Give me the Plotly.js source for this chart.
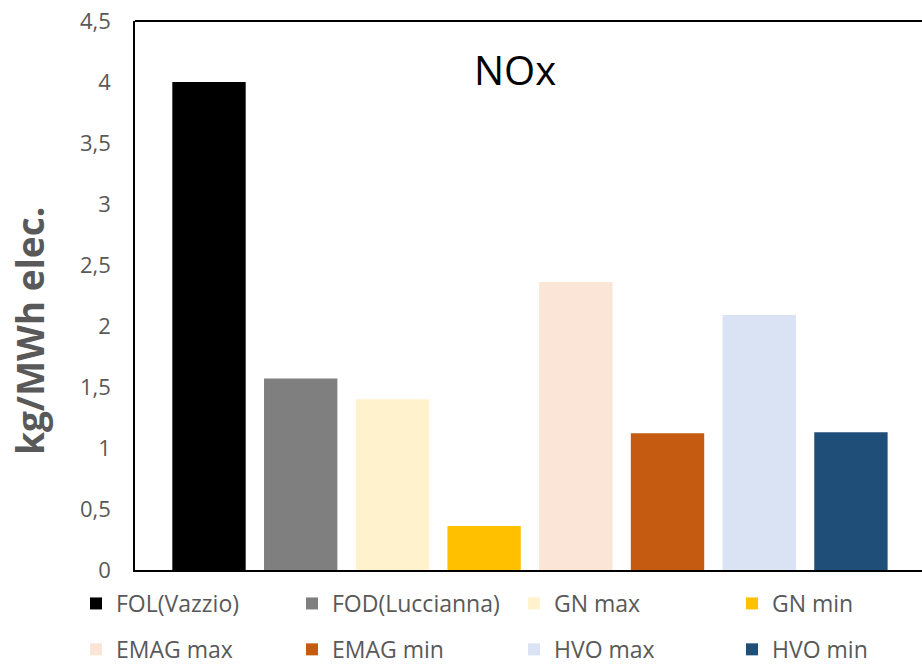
<!DOCTYPE html>
<html>
<head>
<meta charset="utf-8">
<script src="https://cdn.plot.ly/plotly-3.0.1.min.js"></script>
<style>html,body{margin:0;padding:0;background:#fff;}#chart{width:922px;height:666px;}</style>
</head>
<body>
<div id="chart"></div>
<script>
const categories = ["FOL(Vazzio)", "FOD(Luccianna)", "GN max", "GN min", "EMAG max", "EMAG min", "HVO max", "HVO min"];
const values = [4.0, 1.57, 1.40, 0.36, 2.36, 1.12, 2.09, 1.13];
const colors = ["#000000", "#7f7f7f", "#fff2cc", "#ffc000", "#fbe5d6", "#c55a11", "#dae3f3", "#1f4e79"];
const yTicks = [0, 0.5, 1, 1.5, 2, 2.5, 3, 3.5, 4, 4.5];
const chartTitle = "NOx";
const yTitle = "kg/MWh elec.";

// legend column for each series (4 columns, 2 rows)
const legendIds = ["legend", "legend2", "legend3", "legend4"];

const traces = categories.map((c, i) => ({
  type: "bar",
  x: [c],
  y: [values[i]],
  name: c,
  marker: {color: colors[i], line: {width: 0}},
  legend: legendIds[i % 4],
  legendgroup: "g" + i,
  hoverinfo: "x+y"
}));

const colLeft = [76, 292, 514, 732];
function makeLegend(k) {
  return {
    orientation: "v",
    xref: "paper", yref: "container",
    x: (colLeft[k] - 135) / 787, xanchor: "left",
    y: 1 - 582 / 666, yanchor: "top",
    font: {family: "Open Sans", size: 23, color: "#595959"},
    bgcolor: "rgba(0,0,0,0)", borderwidth: 0,
    traceorder: "grouped",
    tracegroupgap: 13
  };
}

const layout = {
  width: 922, height: 666,
  margin: {l: 135, r: 0, t: 21, b: 96, pad: 0},
  paper_bgcolor: "#ffffff", plot_bgcolor: "#ffffff",
  font: {family: "Open Sans", color: "#595959"},
  separators: ", ",
  barmode: "overlay",
  bargap: 0.2,
  title: {
    text: chartTitle,
    font: {family: "Open Sans", size: 40, color: "#000000"},
    xref: "container", yref: "container",
    x: 515/922, xanchor: "center",
    y: 1 - 71/666, yanchor: "middle"
  },
  xaxis: {
    type: "category",
    range: [-0.807, 7.775],
    showticklabels: false, ticks: "",
    showgrid: false, zeroline: false,
    showline: true, linecolor: "#000000", linewidth: 1.5,
    fixedrange: true
  },
  yaxis: {
    range: [0, 4.5],
    tickvals: yTicks,
    tickformat: ".1~f",
    showgrid: false, zeroline: false,
    showline: true, linecolor: "#000000", linewidth: 1.5,
    ticks: "outside", ticklen: 18, tickcolor: "rgba(0,0,0,0)",
    tickfont: {family: "Open Sans", size: 22, color: "#595959"},
    fixedrange: true
  },
  annotations: [{
    text: "<b>" + yTitle + "</b>",
    xref: "paper", yref: "paper",
    x: (29 - 135) / 787, y: (570 - 331) / 549,
    xanchor: "center", yanchor: "middle",
    textangle: -90, showarrow: false,
    font: {family: "Open Sans", size: 37, color: "#595959"}
  }],
  shapes: [{
    type: "line", xref: "paper", yref: "paper",
    x0: 0, x1: 1, y0: 1, y1: 1,
    line: {color: "#000000", width: 2}
  }],
  showlegend: true,
  legend: makeLegend(0),
  legend2: makeLegend(1),
  legend3: makeLegend(2),
  legend4: makeLegend(3)
};

Plotly.newPlot("chart", traces, layout, {displayModeBar: false, responsive: false});
</script>
</body>
</html>
